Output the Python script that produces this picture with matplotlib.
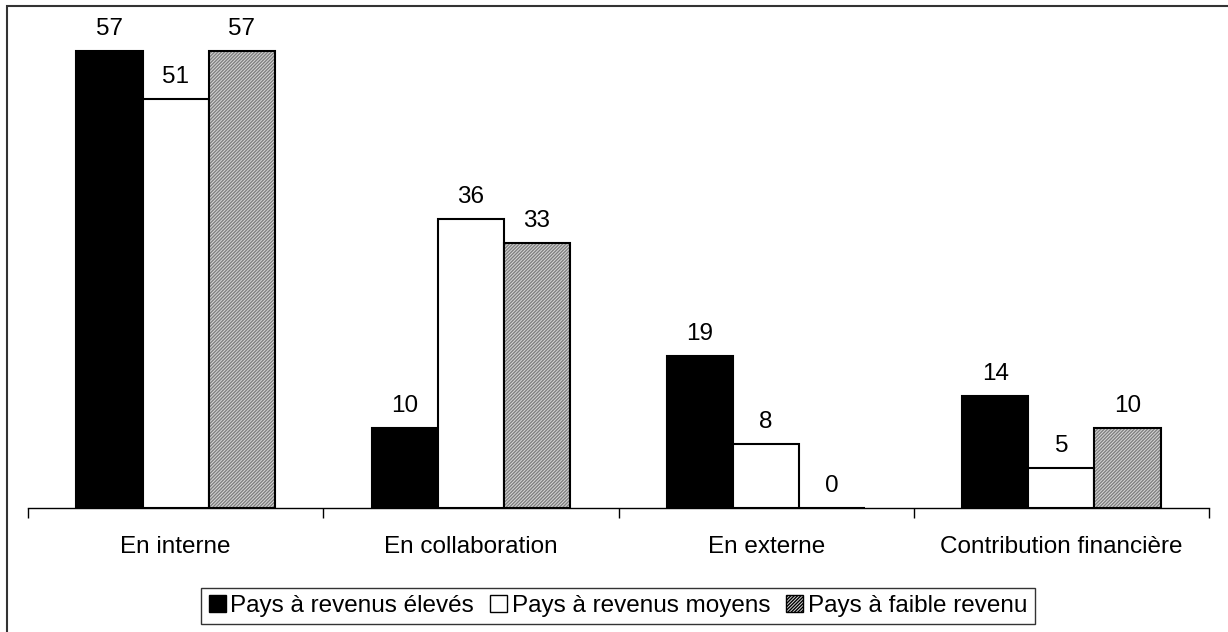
import matplotlib
matplotlib.use('Agg')
import matplotlib.pyplot as plt
from matplotlib.patches import Rectangle, Patch
import numpy as np

plt.rcParams['font.family'] = ['Liberation Sans', 'DejaVu Sans']
plt.rcParams['hatch.linewidth'] = 1.0

categories = ['En interne', 'En collaboration', 'En externe', 'Contribution financière']
series_names = ['Pays à revenus élevés', 'Pays à revenus moyens', 'Pays à faible revenu']
eleves = [57, 10, 19, 14]
moyens = [51, 36, 8, 5]
faible = [57, 33, 0, 10]

W, H = 1228, 632
FS = 17.5
fig = plt.figure(figsize=(W / 100, H / 100), dpi=100)
ax = fig.add_axes([28 / W, 124 / H, (1209 - 28) / W, 481 / H])

x = np.arange(len(categories))
bw = 0.224
styles = [
    dict(facecolor='black', edgecolor='black'),
    dict(facecolor='white', edgecolor='black'),
    dict(facecolor='#d8d8d8', edgecolor='#808080', hatch='//////////'),
]
values = [eleves, moyens, faible]
handles = []
for i, (vals, st) in enumerate(zip(values, styles)):
    pos = x + (i - 1) * bw
    if 'hatch' in st:
        # fill + hatch in gray, then black outline on top
        ax.bar(pos, vals, width=bw, linewidth=0, **st)
        ax.bar(pos, vals, width=bw, fill=False, edgecolor='black', linewidth=1.5)
    else:
        ax.bar(pos, vals, width=bw, linewidth=1.5, **st)
    for px, v in zip(pos, vals):
        ax.annotate(str(v), (px, v), xytext=(0, 8), textcoords='offset points',
                    ha='center', va='bottom', fontsize=FS)
    handles.append(Patch(**st, linewidth=1.0, label=series_names[i]))

ax.set_xlim(-0.5, len(categories) - 0.5)
ax.set_ylim(0, 60)
for s in ['left', 'top', 'right']:
    ax.spines[s].set_visible(False)
ax.spines['bottom'].set_linewidth(1.0)
ax.set_yticks([])
ax.set_xticks(x)
ax.set_xticklabels(categories, fontsize=FS)
ax.tick_params(axis='x', which='major', length=0, pad=20)
ax.set_xticks(np.arange(len(categories) + 1) - 0.5, minor=True)
ax.tick_params(axis='x', which='minor', length=7, width=1.0, direction='out')

leg = fig.legend(handles=handles, loc='center', bbox_to_anchor=(618 / W, 26 / H),
                 ncol=3, fontsize=FS, frameon=True, fancybox=False,
                 handlelength=0.7, handleheight=0.7, handletextpad=0.2,
                 columnspacing=0.65, borderpad=0.3, borderaxespad=0)
leg.get_frame().set_edgecolor('black')
leg.get_frame().set_linewidth(1.0)
for h in leg.legend_handles:
    h.set_edgecolor('black')

# outer frame (only left and top edges visible in the picture)
fig.patches.append(Rectangle((7 / W, -0.1), 1.2, (H - 6) / H + 0.1,
                             transform=fig.transFigure, fill=False,
                             edgecolor='#333333', linewidth=1.5, clip_on=False))

fig.savefig('out.png', dpi=100)
